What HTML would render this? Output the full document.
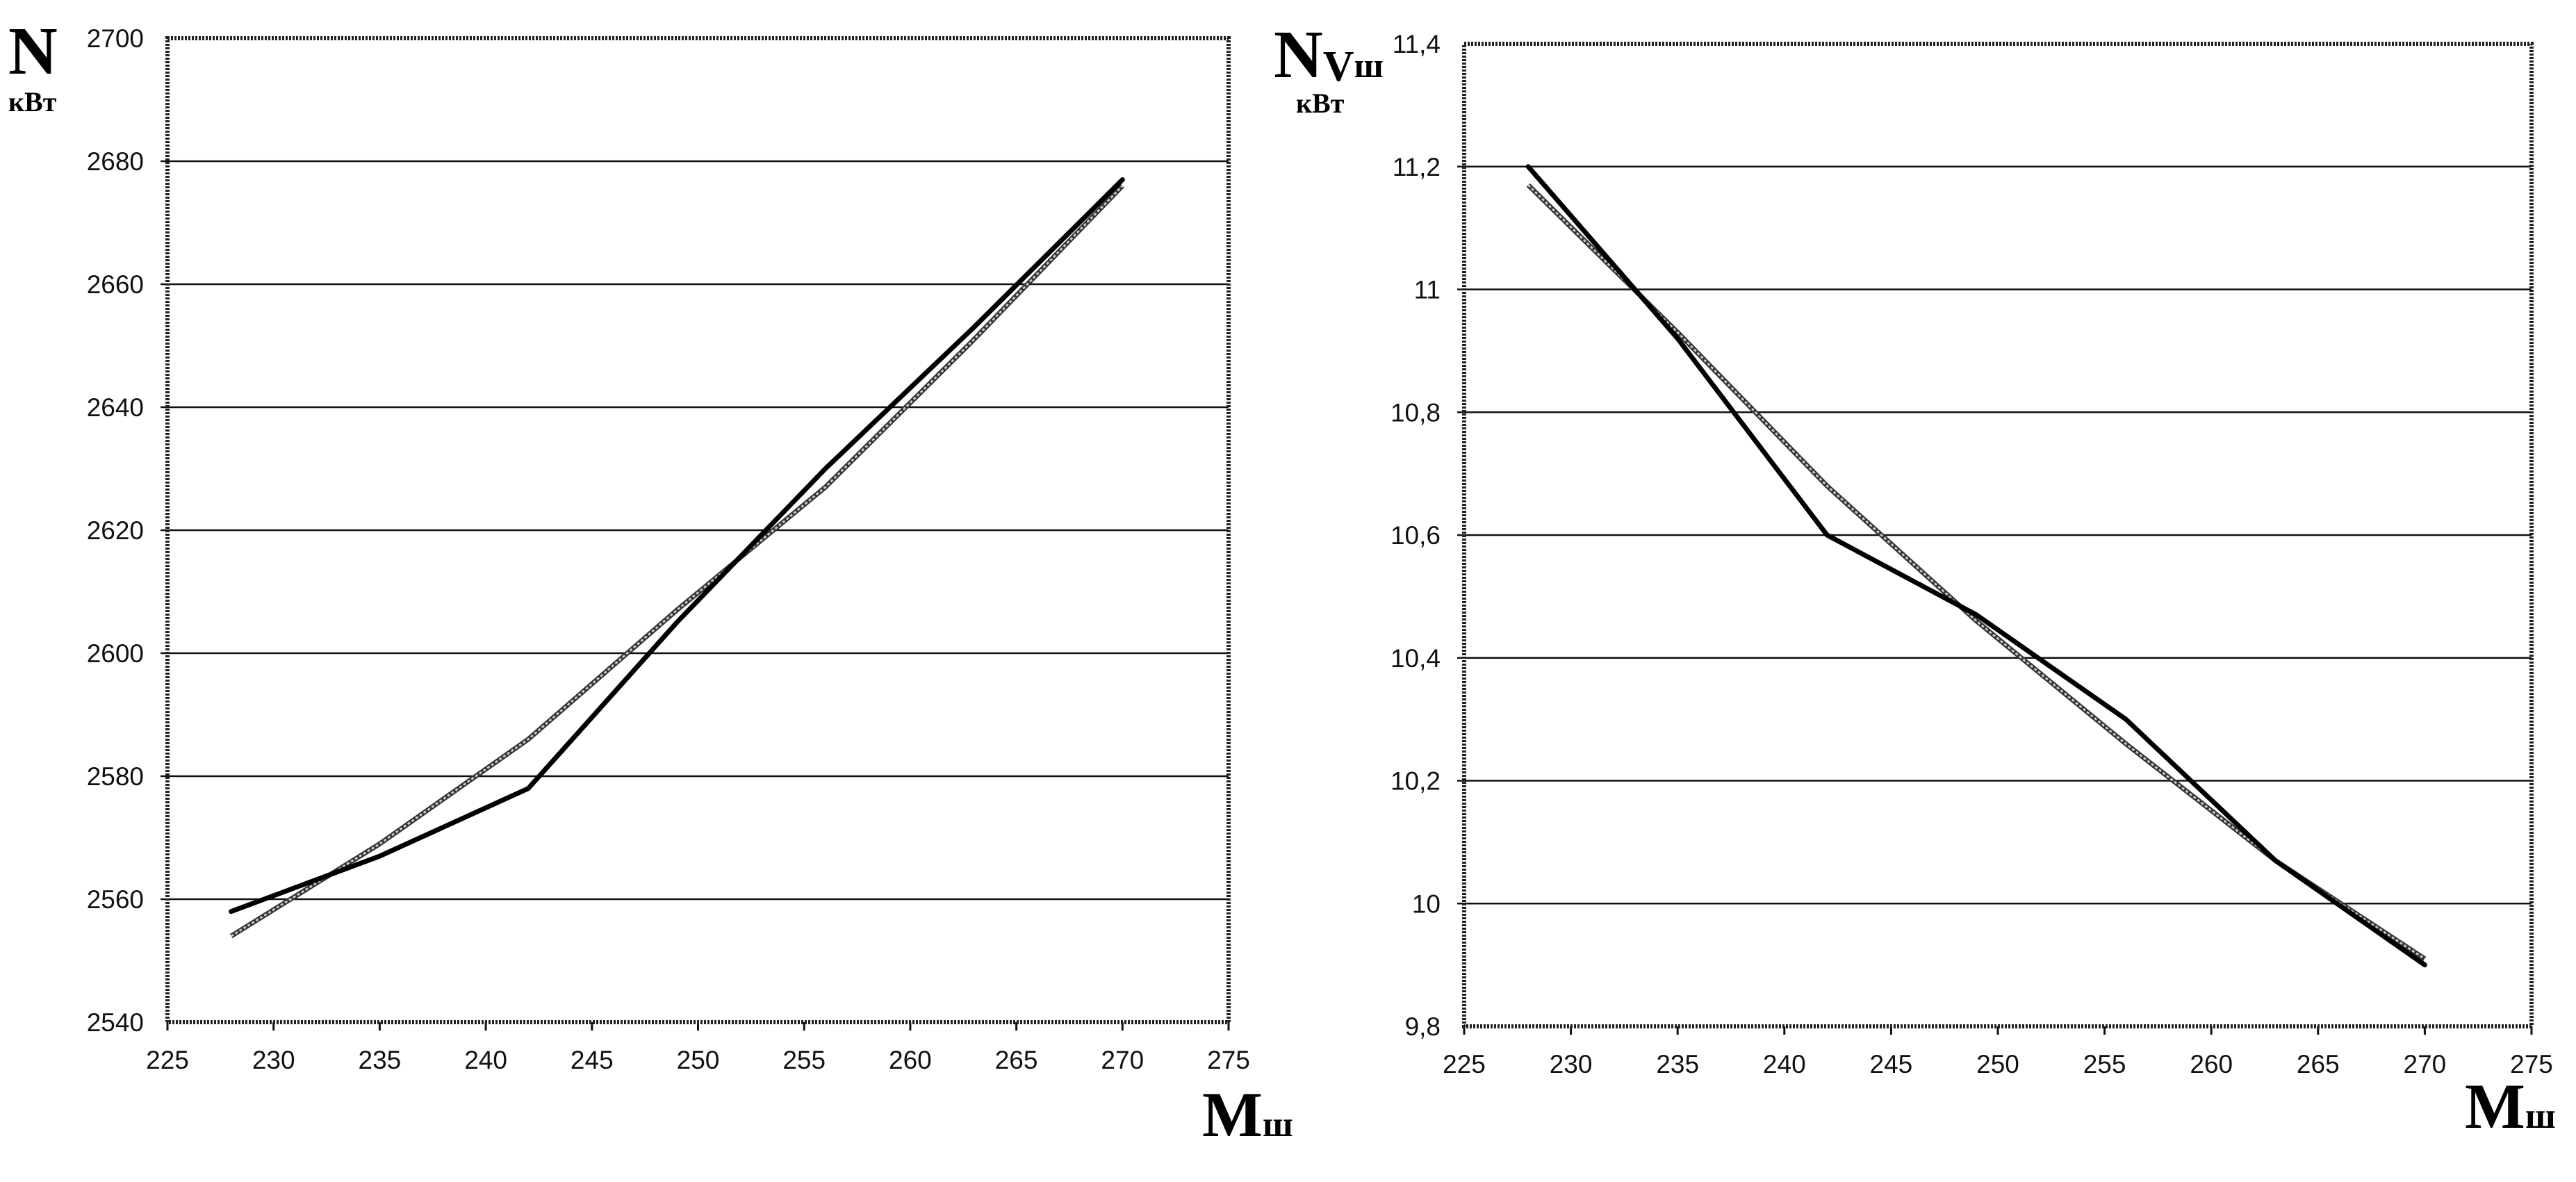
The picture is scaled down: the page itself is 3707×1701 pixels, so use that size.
<!DOCTYPE html>
<html><head><meta charset="utf-8"><style>
html,body{margin:0;padding:0;background:#fff;}
svg{display:block;}
.tick{font-family:"Liberation Sans",sans-serif;font-size:37px;fill:#111;}
.lab{font-family:"Liberation Serif",serif;font-weight:bold;fill:#000;}
</style></head><body>
<svg id="svg" width="3707" height="1701" viewBox="0 0 3707 1701" xmlns="http://www.w3.org/2000/svg">
<g id="c1"></g>
<g id="c2"></g>
<text class="lab" x="12" y="106" font-size="98">N</text>
<text class="lab" x="12" y="160" font-size="40">кВт</text>
<text class="lab" x="1730" y="1635" font-size="92">M<tspan font-size="52">ш</tspan></text>
<text class="lab" x="1833" y="111" font-size="98">N<tspan font-size="62" dy="5">V</tspan><tspan font-size="50" dy="-5">ш</tspan></text>
<text class="lab" x="1865" y="162" font-size="40">кВт</text>
<text class="lab" x="3547" y="1623" font-size="92">M<tspan font-size="52">ш</tspan></text>
</svg>
<script>
const xTicks = [225,230,235,240,245,250,255,260,265,270,275];
const y1Ticks = [2540,2560,2580,2600,2620,2640,2660,2680,2700];
const y1Labels = ["2540","2560","2580","2600","2620","2640","2660","2680","2700"];
const x1 = [228,235,242,249,256,263,270];
const n1Actual = [2558,2567,2578,2605,2630,2653,2677];
const n1Trend = [2554,2569,2586,2607,2627,2651,2676];
const y2Ticks = [9.8,10,10.2,10.4,10.6,10.8,11,11.2,11.4];
const y2Labels = ["9,8","10","10,2","10,4","10,6","10,8","11","11,2","11,4"];
const x2 = [228,235,242,249,256,263,270];
const n2Actual = [11.2,10.92,10.6,10.47,10.3,10.07,9.9];
const n2Trend = [11.17,10.93,10.68,10.46,10.26,10.07,9.91];

const NS="http://www.w3.org/2000/svg";
function mk(tag,attrs,parent){const e=document.createElementNS(NS,tag);for(const k in attrs)e.setAttribute(k,attrs[k]);parent.appendChild(e);return e;}

function drawChart(g, box, yTicks, yLabels, series, prefix){
  const xs=v=>box.l+(v-xTicks[0])/(xTicks[xTicks.length-1]-xTicks[0])*(box.r-box.l);
  const ys=v=>box.b-(v-yTicks[0])/(yTicks[yTicks.length-1]-yTicks[0])*(box.b-box.t);
  yTicks.forEach((v,i)=>{
    const y=ys(v);
    if(i>0&&i<yTicks.length-1){
      const ln=mk('line',{x1:box.l-10,x2:box.r,y1:y,y2:y,stroke:'#111','stroke-width':2.5},g);
      
      
    }
    const t=mk('text',{x:box.l-34,y:y+13,'text-anchor':'end',class:'tick'},g);
    t.textContent=yLabels[i];
    
    
  });
  xTicks.forEach(v=>{
    const x=xs(v);
    const tk=mk('line',{x1:x,x2:x,y1:box.b,y2:box.b+12,stroke:'#111','stroke-width':3},g);
    
    
    const t=mk('text',{x:x,y:box.b+67,'text-anchor':'middle',class:'tick'},g);
    t.textContent=String(v);
    
    
  });
  const fr=mk('rect',{x:box.l,y:box.t,width:box.r-box.l,height:box.b-box.t,fill:'none',stroke:'#222','stroke-width':6,'stroke-dasharray':'3 2'},g);
  
  
  // trend line
  const tp=series.x.map((v,i)=>xs(v)+','+ys(series.trend[i])).join(' ');
  const t1=mk('polyline',{points:tp,fill:'none',stroke:'#333','stroke-width':7,'stroke-linejoin':'round'},g);
  
  
  const t2=mk('polyline',{points:tp,fill:'none',stroke:'#c8c8c8','stroke-width':3,'stroke-linejoin':'round','stroke-dasharray':'4 3'},g);
  
  
  const ap=series.x.map((v,i)=>xs(v)+','+ys(series.actual[i])).join(' ');
  const a=mk('polyline',{points:ap,fill:'none',stroke:'#000','stroke-width':7,'stroke-linejoin':'round','stroke-linecap':'round'},g);
  
  
}
drawChart(document.getElementById('c1'),{l:241,r:1768,t:55,b:1471},y1Ticks,y1Labels,{x:x1,actual:n1Actual,trend:n1Trend},'left');
drawChart(document.getElementById('c2'),{l:2107,r:3643,t:63,b:1477},y2Ticks,y2Labels,{x:x2,actual:n2Actual,trend:n2Trend},'right');
</script>
</body></html>
